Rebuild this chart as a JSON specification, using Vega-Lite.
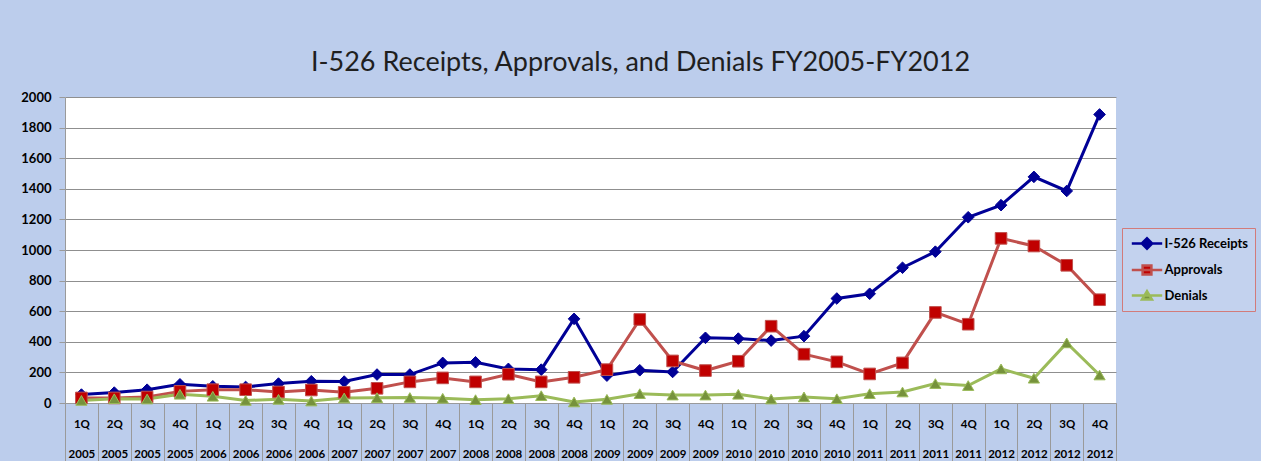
{
  "$schema": "https://vega.github.io/schema/vega-lite/v6.json",
  "autosize": {"type": "none"},
  "width": 1051,
  "height": 306,
  "padding": {"left": 65, "top": 97, "right": 145, "bottom": 58},
  "background": "#bccdec",
  "title": {
    "text": "I-526 Receipts, Approvals, and Denials FY2005-FY2012",
    "font": "Lato",
    "fontSize": 27,
    "fontWeight": "normal",
    "color": "#1f1f1f",
    "anchor": "middle",
    "frame": "group",
    "baseline": "alphabetic",
    "offset": -7,
    "dx": 50
  },
  "config": {
    "view": {"stroke": null, "fill": "white"},
    "axis": {"labelFont": "Lato", "labelFontWeight": "bold", "labelColor": "black", "title": null},
    "legend": {"labelFont": "Lato", "labelFontWeight": "bold", "labelFontSize": 13, "labelColor": "black", "symbolOpacity": 1}
  },
  "data": {
    "values": [
      {"q": "1Q 2005", "series": "I-526 Receipts", "value": 55}, {"q": "1Q 2005", "series": "Approvals", "value": 33}, {"q": "1Q 2005", "series": "Denials", "value": 17},
      {"q": "2Q 2005", "series": "I-526 Receipts", "value": 68}, {"q": "2Q 2005", "series": "Approvals", "value": 33}, {"q": "2Q 2005", "series": "Denials", "value": 28},
      {"q": "3Q 2005", "series": "I-526 Receipts", "value": 87}, {"q": "3Q 2005", "series": "Approvals", "value": 39}, {"q": "3Q 2005", "series": "Denials", "value": 26},
      {"q": "4Q 2005", "series": "I-526 Receipts", "value": 122}, {"q": "4Q 2005", "series": "Approvals", "value": 76}, {"q": "4Q 2005", "series": "Denials", "value": 57},
      {"q": "1Q 2006", "series": "I-526 Receipts", "value": 109}, {"q": "1Q 2006", "series": "Approvals", "value": 87}, {"q": "1Q 2006", "series": "Denials", "value": 44},
      {"q": "2Q 2006", "series": "I-526 Receipts", "value": 105}, {"q": "2Q 2006", "series": "Approvals", "value": 87}, {"q": "2Q 2006", "series": "Denials", "value": 17},
      {"q": "3Q 2006", "series": "I-526 Receipts", "value": 127}, {"q": "3Q 2006", "series": "Approvals", "value": 72}, {"q": "3Q 2006", "series": "Denials", "value": 24},
      {"q": "4Q 2006", "series": "I-526 Receipts", "value": 142}, {"q": "4Q 2006", "series": "Approvals", "value": 85}, {"q": "4Q 2006", "series": "Denials", "value": 13},
      {"q": "1Q 2007", "series": "I-526 Receipts", "value": 140}, {"q": "1Q 2007", "series": "Approvals", "value": 70}, {"q": "1Q 2007", "series": "Denials", "value": 33},
      {"q": "2Q 2007", "series": "I-526 Receipts", "value": 186}, {"q": "2Q 2007", "series": "Approvals", "value": 96}, {"q": "2Q 2007", "series": "Denials", "value": 35},
      {"q": "3Q 2007", "series": "I-526 Receipts", "value": 186}, {"q": "3Q 2007", "series": "Approvals", "value": 138}, {"q": "3Q 2007", "series": "Denials", "value": 36},
      {"q": "4Q 2007", "series": "I-526 Receipts", "value": 262}, {"q": "4Q 2007", "series": "Approvals", "value": 164}, {"q": "4Q 2007", "series": "Denials", "value": 31},
      {"q": "1Q 2008", "series": "I-526 Receipts", "value": 266}, {"q": "1Q 2008", "series": "Approvals", "value": 138}, {"q": "1Q 2008", "series": "Denials", "value": 22},
      {"q": "2Q 2008", "series": "I-526 Receipts", "value": 223}, {"q": "2Q 2008", "series": "Approvals", "value": 188}, {"q": "2Q 2008", "series": "Denials", "value": 28},
      {"q": "3Q 2008", "series": "I-526 Receipts", "value": 218}, {"q": "3Q 2008", "series": "Approvals", "value": 138}, {"q": "3Q 2008", "series": "Denials", "value": 48},
      {"q": "4Q 2008", "series": "I-526 Receipts", "value": 550}, {"q": "4Q 2008", "series": "Approvals", "value": 168}, {"q": "4Q 2008", "series": "Denials", "value": 7},
      {"q": "1Q 2009", "series": "I-526 Receipts", "value": 179}, {"q": "1Q 2009", "series": "Approvals", "value": 218}, {"q": "1Q 2009", "series": "Denials", "value": 24},
      {"q": "2Q 2009", "series": "I-526 Receipts", "value": 214}, {"q": "2Q 2009", "series": "Approvals", "value": 546}, {"q": "2Q 2009", "series": "Denials", "value": 61},
      {"q": "3Q 2009", "series": "I-526 Receipts", "value": 203}, {"q": "3Q 2009", "series": "Approvals", "value": 275}, {"q": "3Q 2009", "series": "Denials", "value": 52},
      {"q": "4Q 2009", "series": "I-526 Receipts", "value": 426}, {"q": "4Q 2009", "series": "Approvals", "value": 212}, {"q": "4Q 2009", "series": "Denials", "value": 52},
      {"q": "1Q 2010", "series": "I-526 Receipts", "value": 421}, {"q": "1Q 2010", "series": "Approvals", "value": 273}, {"q": "1Q 2010", "series": "Denials", "value": 57},
      {"q": "2Q 2010", "series": "I-526 Receipts", "value": 408}, {"q": "2Q 2010", "series": "Approvals", "value": 502}, {"q": "2Q 2010", "series": "Denials", "value": 26},
      {"q": "3Q 2010", "series": "I-526 Receipts", "value": 437}, {"q": "3Q 2010", "series": "Approvals", "value": 319}, {"q": "3Q 2010", "series": "Denials", "value": 40},
      {"q": "4Q 2010", "series": "I-526 Receipts", "value": 683}, {"q": "4Q 2010", "series": "Approvals", "value": 269}, {"q": "4Q 2010", "series": "Denials", "value": 28},
      {"q": "1Q 2011", "series": "I-526 Receipts", "value": 714}, {"q": "1Q 2011", "series": "Approvals", "value": 190}, {"q": "1Q 2011", "series": "Denials", "value": 61},
      {"q": "2Q 2011", "series": "I-526 Receipts", "value": 884}, {"q": "2Q 2011", "series": "Approvals", "value": 262}, {"q": "2Q 2011", "series": "Denials", "value": 72},
      {"q": "3Q 2011", "series": "I-526 Receipts", "value": 989}, {"q": "3Q 2011", "series": "Approvals", "value": 592}, {"q": "3Q 2011", "series": "Denials", "value": 127},
      {"q": "4Q 2011", "series": "I-526 Receipts", "value": 1214}, {"q": "4Q 2011", "series": "Approvals", "value": 515}, {"q": "4Q 2011", "series": "Denials", "value": 114},
      {"q": "1Q 2012", "series": "I-526 Receipts", "value": 1293}, {"q": "1Q 2012", "series": "Approvals", "value": 1076}, {"q": "1Q 2012", "series": "Denials", "value": 223},
      {"q": "2Q 2012", "series": "I-526 Receipts", "value": 1478}, {"q": "2Q 2012", "series": "Approvals", "value": 1026}, {"q": "2Q 2012", "series": "Denials", "value": 162},
      {"q": "3Q 2012", "series": "I-526 Receipts", "value": 1386}, {"q": "3Q 2012", "series": "Approvals", "value": 900}, {"q": "3Q 2012", "series": "Denials", "value": 393},
      {"q": "4Q 2012", "series": "I-526 Receipts", "value": 1886}, {"q": "4Q 2012", "series": "Approvals", "value": 675}, {"q": "4Q 2012", "series": "Denials", "value": 183}
    ]
  },
  "encoding": {
    "x": {
      "field": "q", "type": "nominal", "sort": null,
      "scale": {"paddingInner": 0, "paddingOuter": 0},
      "axis": {
        "labelAngle": 0,
        "labelExpr": "split(datum.label, ' ')",
        "labelLineHeight": 30,
        "labelFontSize": 11.5,
        "labelPadding": -37,
        "labelBaseline": "middle",
        "tickBand": "extent",
        "tickSize": 58,
        "tickColor": "#9a9a9a",
        "domainColor": "#9a9a9a",
        "labelOverlap": false
      }
    },
    "y": {
      "field": "value", "type": "quantitative",
      "scale": {"domain": [0, 2000], "nice": false},
      "axis": {
        "values": [0, 200, 400, 600, 800, 1000, 1200, 1400, 1600, 1800, 2000],
        "format": "d",
        "labelFontSize": 13,
        "labelPadding": 8,
        "tickSize": 6,
        "tickColor": "#9a9a9a",
        "domainColor": "#9a9a9a",
        "gridColor": "#8f8f8f",
        "gridWidth": 1.2
      }
    }
  },
  "layer": [
    {
      "mark": {"type": "line", "strokeWidth": 3},
      "encoding": {
        "stroke": {
          "field": "series", "type": "nominal",
          "scale": {"domain": ["I-526 Receipts", "Approvals", "Denials"], "range": ["#000096", "#c0504d", "#9bbb59"]},
          "legend": {
            "title": null,
            "orient": "none",
            "legendX": 1057,
            "legendY": 131,
            "padding": 6,
            "fillColor": "#c3d2ee",
            "strokeColor": "#d27b7a",
            "symbolSize": 256,
            "symbolOffset": 9.5,
            "labelOffset": 8,
            "rowPadding": 6.5,
            "symbolStrokeWidth": 2.5,
            "symbolOpacity": 1
          }
        }
      }
    },
    {
      "mark": {"type": "point", "filled": true, "opacity": 0},
      "encoding": {
        "fill": {
          "field": "series", "type": "nominal",
          "scale": {"domain": ["I-526 Receipts", "Approvals", "Denials"], "range": ["#000096", "#c00000", "#76923c"]}
        },
        "shape": {
          "field": "series", "type": "nominal",
          "scale": {
            "domain": ["I-526 Receipts", "Approvals", "Denials"],
            "range": [
              "M-1.9,0L1.9,0M-0.65,0L0,-0.65L0.65,0L0,0.65Z",
              "M-1.9,0L1.9,0M-0.55,-0.55L0.55,-0.55L0.55,0.55L-0.55,0.55Z",
              "M-1.9,0L1.9,0M-0.62,0.5L0,-0.55L0.62,0.5Z"
            ]
          }
        }
      }
    },
    {
      "transform": [{"filter": "datum.series == 'I-526 Receipts'"}],
      "mark": {"type": "point", "shape": "diamond", "filled": true, "opacity": 1, "size": 135, "fill": "#000096", "stroke": "#000096", "strokeWidth": 1}
    },
    {
      "transform": [{"filter": "datum.series == 'Approvals'"}],
      "mark": {"type": "point", "shape": "square", "filled": true, "opacity": 1, "size": 135, "fill": "#c00000", "stroke": "#c0504d", "strokeWidth": 1}
    },
    {
      "transform": [{"filter": "datum.series == 'Denials'"}],
      "mark": {"type": "point", "shape": "triangle-up", "filled": true, "opacity": 1, "size": 125, "fill": "#76923c", "stroke": "#9bbb59", "strokeWidth": 1}
    }
  ]
}
